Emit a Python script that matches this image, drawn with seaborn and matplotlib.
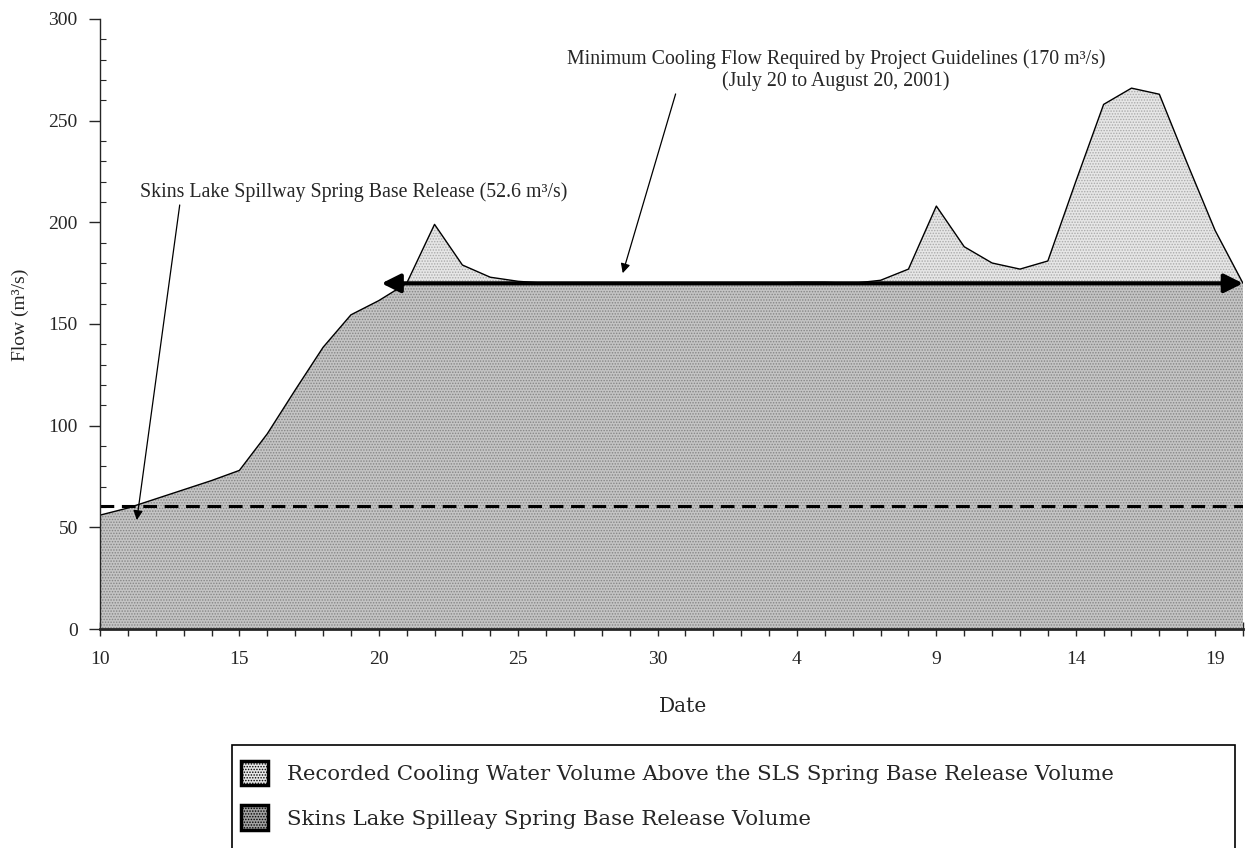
import numpy as np
import pandas as pd
import matplotlib
matplotlib.use('Agg')
import matplotlib.pyplot as plt
from matplotlib.patches import Patch, Rectangle
from matplotlib.ticker import MultipleLocator
import seaborn as sns

# daily flow, July 10 to August 20, 2001 (m3/s)
day_index = list(range(42))
flow = [56, 59.5, 64, 68.5, 73, 78, 96, 117.5, 138.5, 154.5, 161.5, 170,
        199, 179, 173, 171, 170, 170, 170, 170, 170, 169.5, 170, 169.5,
        170, 170.5, 170.5, 170, 171.5, 177, 208, 188, 180, 177, 181, 220,
        258, 266, 263, 229, 196, 170]
tick_pos = [0, 5, 10, 15, 20, 25, 30, 35, 40]
tick_labels = ["10", "15", "20", "25", "30", "4", "9", "14", "19"]

min_cooling_flow = 170
spring_base_line = 60.5
arrow_start_day = 10.1

df = pd.DataFrame({"day": day_index, "flow": flow})
df["base"] = np.minimum(df["flow"], min_cooling_flow)

sns.set_style("ticks")
plt.rcParams['font.family'] = ['Liberation Serif', 'DejaVu Serif']
plt.rcParams['hatch.linewidth'] = 0.7

fig = plt.figure(figsize=(12.45, 8.48), dpi=100)
ax = fig.add_axes([100 / 1245, 1 - 629 / 848, 1143 / 1245, 610 / 848])

# stacked areas
ax.fill_between(df["day"], 0, df["base"], facecolor="#c4c4c4", edgecolor="#858585",
                hatch="......", linewidth=0)
ax.fill_between(df["day"], df["base"], df["flow"], where=df["flow"] >= min_cooling_flow,
                interpolate=True, facecolor="#e6e6e6", edgecolor="#aaaaaa",
                hatch="......", linewidth=0)
sns.lineplot(data=df, x="day", y="flow", color="black", linewidth=1.0, ax=ax)

# spring base release (dashed)
ax.axhline(spring_base_line, color="black", linestyle=(0, (4.5, 2.5)), linewidth=2.2)

# minimum cooling flow double arrow
ax.annotate("", xy=(arrow_start_day, min_cooling_flow), xytext=(41, min_cooling_flow),
            arrowprops=dict(arrowstyle="<|-|>", color="black", lw=3, mutation_scale=28,
                            shrinkA=0, shrinkB=0),
            annotation_clip=False)

# annotations
ax.annotate("Skins Lake Spillway Spring Base Release (52.6 m³/s)",
            xy=(1.32, 53.6), xytext=(1.45, 215), fontsize=14.3, va="center", ha="left",
            arrowprops=dict(arrowstyle="-|>", color="black", lw=0.9, mutation_scale=14,
                            shrinkA=0, shrinkB=0, relpos=(0.093, 0.0)))
ax.annotate("Minimum Cooling Flow Required by Project Guidelines (170 m³/s)\n"
            "(July 20 to August 20, 2001)",
            xy=(18.75, 175), xytext=(26.4, 275), fontsize=14.3, va="center", ha="center",
            multialignment="center", linespacing=1.15,
            arrowprops=dict(arrowstyle="-|>", color="black", lw=0.9, mutation_scale=14,
                            shrinkA=0, shrinkB=0, relpos=(0.204, 0.0)))

ax.set_xlim(0, 41)
ax.set_ylim(0, 300)
ax.set_xticks(tick_pos)
ax.set_xticklabels(tick_labels)
ax.xaxis.set_minor_locator(MultipleLocator(1))
ax.yaxis.set_major_locator(MultipleLocator(50))
ax.yaxis.set_minor_locator(MultipleLocator(10))
ax.tick_params(axis="x", which="both", direction="inout", length=10, width=1,
               labelsize=14, pad=11)
ax.tick_params(axis="y", which="major", direction="out", length=8, width=1,
               labelsize=14, pad=8)
ax.tick_params(axis="y", which="minor", direction="in", length=4, width=0.8)
sns.despine(ax=ax)
ax.spines["bottom"].set_linewidth(2)
ax.spines["left"].set_linewidth(1)

ax.set_xlabel("Date", fontsize=14.5, family=["DejaVu Serif"])
ax.xaxis.set_label_coords(0.51, -0.112)
ax.set_ylabel("Flow (m³/s)", fontsize=14)
ax.yaxis.set_label_coords(-0.062, 0.515)

# legend box (runs off the bottom of the figure)
fig.patches.append(Rectangle((232 / 1245, -0.05), 1003 / 1245, (848 - 745) / 848 + 0.05,
                             transform=fig.transFigure, facecolor="white",
                             edgecolor="black", linewidth=1.2))
handles = [Patch(facecolor="#e6e6e6", edgecolor="black", hatch="......", linewidth=2.5),
           Patch(facecolor="#a0a0a0", edgecolor="black", hatch="......", linewidth=2.5)]
labels = ["Recorded Cooling Water Volume Above the SLS Spring Base Release Volume",
          "Skins Lake Spilleay Spring Base Release Volume"]
fig.legend(handles, labels, loc="upper left", bbox_to_anchor=(232 / 1245, 1 - 752 / 848),
           frameon=False, prop={"family": "DejaVu Serif", "size": 15.3},
           handlelength=1.3, handleheight=1.4, labelspacing=0.95, handletextpad=0.9,
           borderaxespad=0)

fig.savefig("out.png", dpi=100)
